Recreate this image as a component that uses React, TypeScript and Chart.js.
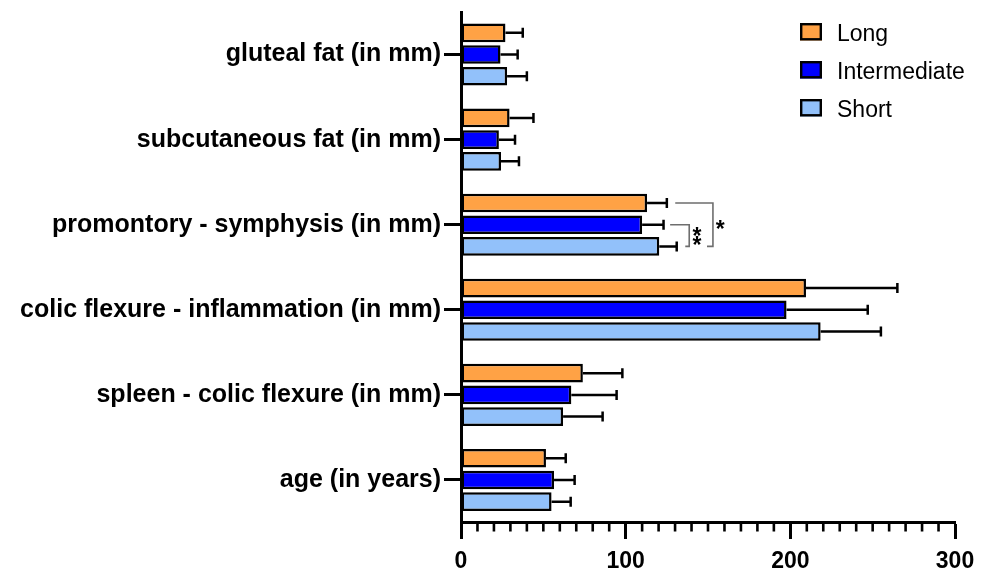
import React, { useEffect, useRef } from 'react';
import { Chart, registerables } from 'chart.js';

Chart.register(...registerables);

const categories = [
  'gluteal fat (in mm)',
  'subcutaneous fat (in mm)',
  'promontory - symphysis (in mm)',
  'colic flexure - inflammation (in mm)',
  'spleen - colic flexure (in mm)',
  'age (in years)',
];
const seriesNames = ['Long', 'Intermediate', 'Short'];
const longMeans = [27, 29.5, 113, 209.5, 74, 51.6];
const longSD = [10.5, 14.5, 12, 55.5, 24, 12];
const intermediateMeans = [24, 23, 110, 197.7, 67, 56.5];
const intermediateSD = [10.4, 9.8, 13, 49.3, 27.5, 12.5];
const shortMeans = [28, 24.3, 120.4, 218.4, 62, 55];
const shortSD = [12, 10.9, 10.6, 36.6, 24, 11.6];
const xTicks = [0, 100, 200, 300];
const minorStep = 10;
const colors = ['#FFA245', '#0000FF', '#92C1FA'];

// significance brackets (category index, dataset rows, x positions in data units)
const brackets = [
  { category: 2, from: 1, to: 2, topStart: 127, bottomStart: 136.2, x: 138.6, label: '**', labelX: 143.3, stacked: true },
  { category: 2, from: 0, to: 2, topStart: 130.1, bottomStart: 149.4, x: 153, label: '*', labelX: 157.4, stacked: false },
];

const FONT = "'Liberation Sans', Arial, sans-serif";

export default function App() {
  const ref = useRef<HTMLCanvasElement | null>(null);

  useEffect(() => {
    if (!ref.current) return;
    const sds = [longSD, intermediateSD, shortSD];

    const extras = {
      id: 'extras',
      afterDatasetsDraw(chart: any) {
        const ctx = chart.ctx;
        const xs = chart.scales.x;
        // error bars
        chart.data.datasets.forEach((ds: any, di: number) => {
          const meta = chart.getDatasetMeta(di);
          meta.data.forEach((bar: any, i: number) => {
            const v = ds.data[i];
            const e = sds[di][i];
            const x0 = xs.getPixelForValue(v);
            const x1 = xs.getPixelForValue(v + e);
            const y = bar.y;
            ctx.save();
            ctx.strokeStyle = '#000';
            ctx.lineWidth = 2.5;
            ctx.beginPath();
            ctx.moveTo(x0, y);
            ctx.lineTo(x1, y);
            ctx.moveTo(x1, y - 5);
            ctx.lineTo(x1, y + 5);
            ctx.stroke();
            ctx.restore();
          });
        });
        // brackets
        brackets.forEach((b) => {
          const yTop = chart.getDatasetMeta(b.from).data[b.category].y;
          const yBot = chart.getDatasetMeta(b.to).data[b.category].y;
          const xv = xs.getPixelForValue(b.x);
          ctx.save();
          ctx.strokeStyle = '#6e6e6e';
          ctx.lineWidth = 1.6;
          ctx.beginPath();
          ctx.moveTo(xs.getPixelForValue(b.topStart), yTop);
          ctx.lineTo(xv, yTop);
          ctx.lineTo(xv, yBot);
          ctx.lineTo(xs.getPixelForValue(b.bottomStart), yBot);
          ctx.stroke();
          ctx.fillStyle = '#000';
          ctx.font = `bold 23px ${FONT}`;
          ctx.textAlign = 'center';
          ctx.textBaseline = 'alphabetic';
          const m = ctx.measureText('*');
          const off = (m.actualBoundingBoxAscent - m.actualBoundingBoxDescent) / 2;
          const lx = xs.getPixelForValue(b.labelX);
          const mid = (yTop + yBot) / 2;
          if (b.stacked) {
            const n = b.label.length;
            for (let k = 0; k < n; k++) {
              const cy = mid + (k - (n - 1) / 2) * 9;
              ctx.fillText('*', lx, cy + off);
            }
          } else {
            ctx.fillText(b.label, lx, mid + off);
          }
          ctx.restore();
        });
      },
      afterDraw(chart: any) {
        const ctx = chart.ctx;
        const xs = chart.scales.x;
        const bottom = chart.chartArea.bottom;
        // minor ticks
        ctx.save();
        ctx.strokeStyle = '#000';
        ctx.lineWidth = 2.6;
        ctx.beginPath();
        const max = xTicks[xTicks.length - 1];
        for (let v = xTicks[0] + minorStep; v < max; v += minorStep) {
          if (xTicks.includes(v)) continue;
          const x = xs.getPixelForValue(v);
          ctx.moveTo(x, bottom);
          ctx.lineTo(x, bottom + 9);
        }
        ctx.stroke();
        ctx.restore();
        // legend
        ctx.save();
        const lx = 800;
        const baseY = 40.5;
        const step = 38;
        seriesNames.forEach((name, i) => {
          const by = baseY + i * step;
          ctx.fillStyle = colors[i];
          ctx.fillRect(lx, by - 17.5, 22, 17.5);
          ctx.strokeStyle = '#000';
          ctx.lineWidth = 2.4;
          ctx.strokeRect(lx + 1.2, by - 16.3, 19.6, 15.1);
          ctx.fillStyle = '#000';
          ctx.font = `23px ${FONT}`;
          ctx.textAlign = 'left';
          ctx.textBaseline = 'alphabetic';
          ctx.fillText(name, 837, by);
        });
        ctx.restore();
      },
    };

    const chart = new Chart(ref.current, {
      type: 'bar',
      data: {
        labels: categories,
        datasets: [
          { label: seriesNames[0], data: longMeans, backgroundColor: colors[0] },
          { label: seriesNames[1], data: intermediateMeans, backgroundColor: colors[1] },
          { label: seriesNames[2], data: shortMeans, backgroundColor: colors[2] },
        ].map((d) => ({
          ...d,
          borderColor: '#000',
          borderWidth: 2.5,
          borderSkipped: false,
          categoryPercentage: 0.765,
          barPercentage: 0.86,
        })),
      },
      options: {
        indexAxis: 'y',
        animation: false,
        responsive: false,
        events: [],
        layout: { padding: { top: 12, right: 34, left: 0, bottom: 0 } },
        plugins: { legend: { display: false }, tooltip: { enabled: false } },
        scales: {
          x: {
            type: 'linear',
            min: 0,
            max: 300,
            afterBuildTicks: (s: any) => {
              s.ticks = xTicks.map((v) => ({ value: v }));
            },
            afterFit: (s: any) => {
              s.height = 46.5;
              s.paddingLeft = 0;
              s.paddingRight = 0;
            },
            grid: {
              drawOnChartArea: false,
              drawTicks: true,
              tickLength: 16.5,
              tickWidth: 3,
              tickColor: '#000',
            },
            border: { display: true, color: '#000', width: 3 },
            ticks: {
              color: '#000',
              font: { family: FONT, size: 23, weight: 'bold' },
              padding: 9,
              maxRotation: 0,
            },
          },
          y: {
            type: 'category',
            afterFit: (s: any) => {
              s.width = 461;
              s.paddingTop = 0;
              s.paddingBottom = 0;
            },
            grid: {
              offset: false,
              drawOnChartArea: false,
              drawTicks: true,
              tickLength: 17,
              tickWidth: 3,
              tickColor: '#000',
            },
            border: { display: true, color: '#000', width: 3 },
            ticks: {
              color: '#000',
              autoSkip: false,
              font: { family: FONT, size: 25, weight: 'bold' },
              padding: 3,
            },
          },
        },
      },
      plugins: [extras],
    } as any);

    return () => chart.destroy();
  }, []);

  return (
    <div style={{ position: 'fixed', left: 0, top: 0, width: 989, height: 569, background: '#fff' }}>
      <canvas ref={ref} width={989} height={569} style={{ display: 'block' }} />
    </div>
  );
}
